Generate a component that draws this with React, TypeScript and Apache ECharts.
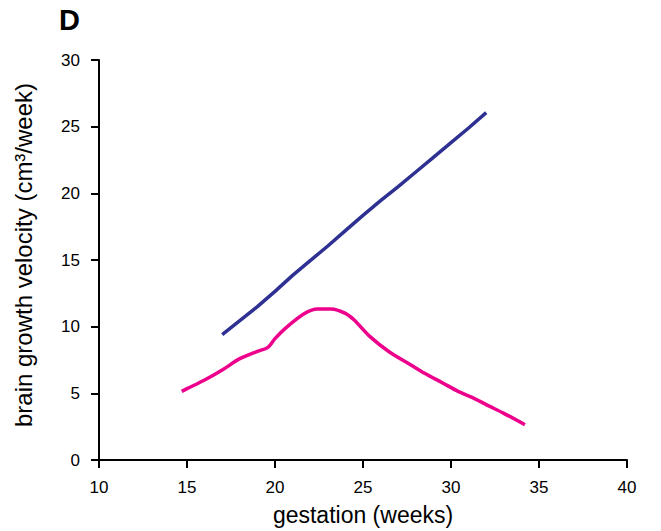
import React, { useEffect, useRef } from "react";
import * as echarts from "echarts";

const blueWeeks = [17, 18, 19, 20, 21, 22, 23, 24, 25, 26, 27, 28, 29, 30, 31, 32];
const blueValues = [9.4, 10.45, 11.5, 12.65, 13.85, 14.95, 16.05, 17.2, 18.35, 19.45, 20.5, 21.6, 22.7, 23.8, 24.9, 26.05];

const pinkWeeks = [14.7, 15, 16, 17, 18, 19, 19.6, 20, 20.7, 21.7, 22.4, 23.2, 24, 24.5, 25.4, 26.5, 27.7, 28.5, 29.5, 30.4, 31.2, 32, 33, 34.2];
const pinkValues = [5.15, 5.35, 6.0, 6.75, 7.6, 8.15, 8.45, 9.1, 10.0, 11.0, 11.33, 11.33, 11.0, 10.5, 9.25, 8.1, 7.15, 6.5, 5.8, 5.15, 4.7, 4.15, 3.5, 2.65];

const xTicks = { min: 10, max: 40, interval: 5 };
const yTicks = { min: 0, max: 30, interval: 5 };

const panelLabel = "D";
const xTitle = "gestation (weeks)";
const yTitle = "brain growth velocity (cm³/week)";

export default function App() {
  const ref = useRef<HTMLDivElement>(null);
  useEffect(() => {
    if (!ref.current) return;
    const chart = echarts.init(ref.current, null, { renderer: "svg" });
    const font = "Liberation Sans, Arial, sans-serif";
    const axisCommon = {
      axisLine: { show: true, lineStyle: { color: "#000", width: 2 } },
      axisTick: { show: true, length: 8, lineStyle: { color: "#000", width: 2 } },
      splitLine: { show: false },
      axisLabel: { color: "#000", fontSize: 17, fontFamily: font, margin: 19 },
      nameLocation: "middle" as const,
    };
    chart.setOption({
      animation: false,
      backgroundColor: "#fff",
      grid: { left: 99, right: 34, top: 60, bottom: 71 },
      xAxis: {
        type: "value",
        ...xTicks,
        ...axisCommon,
        name: xTitle,
        nameGap: 43,
        nameTextStyle: { color: "#000", fontSize: 23, fontFamily: font },
      },
      yAxis: {
        type: "value",
        ...yTicks,
        ...axisCommon,
        name: yTitle,
        nameGap: 64,
        nameTextStyle: { color: "#000", fontSize: 24, fontFamily: font, padding: [0, 0, 0, 10] },
      },
      graphic: [
        {
          type: "text",
          left: 59,
          top: 5,
          style: { text: panelLabel, fontSize: 29, fontWeight: "bold", fontFamily: font, fill: "#000" },
        },
      ],
      series: [
        {
          type: "line",
          data: blueWeeks.map((w, i) => [w, blueValues[i]]),
          showSymbol: false,
          lineStyle: { color: "#2e3192", width: 3.5 },
          itemStyle: { color: "#2e3192" },
        },
        {
          type: "line",
          data: pinkWeeks.map((w, i) => [w, pinkValues[i]]),
          showSymbol: false,
          smooth: 0.3,
          lineStyle: { color: "#ec008c", width: 3.5 },
          itemStyle: { color: "#ec008c" },
        },
      ],
    });
    return () => chart.dispose();
  }, []);
  return <div ref={ref} style={{ width: 661, height: 531, position: "fixed", left: 0, top: 0 }} />;
}
